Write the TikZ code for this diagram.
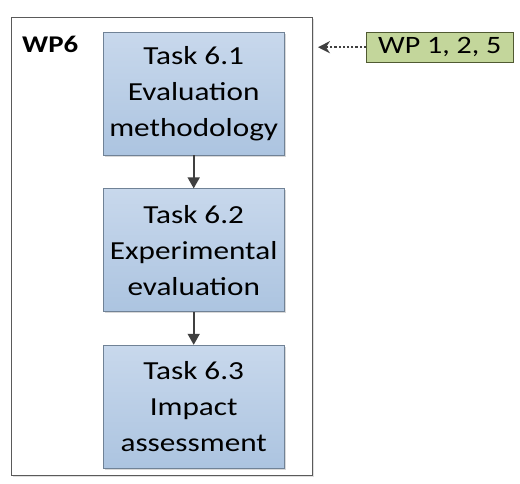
\documentclass[tikz,border=0pt]{standalone}
\usepackage{fontspec}
\setmainfont{Carlito}[FakeStretch=1.2]
\usetikzlibrary{arrows.meta, calc, positioning, shadows}
\definecolor{tasktop}{RGB}{200,216,236}
\definecolor{taskbot}{RGB}{172,196,224}
\definecolor{taskline}{RGB}{112,130,150}
\definecolor{wpcol}{RGB}{195,214,155}
\definecolor{wpline}{RGB}{80,90,50}
\definecolor{framecol}{RGB}{90,90,90}
\definecolor{linecol}{RGB}{64,64,64}
\tikzset{
  frame/.style = {draw=framecol, line width=0.9pt, fill=white,
                  minimum width=301pt, minimum height=458pt, inner sep=0pt,
                  drop shadow={shadow xshift=1.5pt, shadow yshift=-1.5pt,
                               opacity=0.25}},
  task/.style  = {draw=taskline, top color=tasktop, bottom color=taskbot,
                  align=center, minimum width=181pt, minimum height=123pt,
                  inner sep=0pt, font=\fontsize{26}{36}\selectfont,
                  drop shadow={shadow xshift=1.5pt, shadow yshift=-1.5pt,
                               opacity=0.3}},
  wpin/.style  = {draw=wpline, fill=wpcol, minimum width=147pt,
                  minimum height=30pt, inner sep=0pt,
                  font=\fontsize{25}{28}\selectfont},
  wplabel/.style = {font=\fontsize{24}{26}\selectfont\bfseries, inner sep=0pt},
  flow/.style  = {-{Triangle[length=11pt, width=12pt]}, draw=linecol,
                  line width=1.6pt},
  dep/.style   = {-{Stealth[length=12pt, width=12pt]}, draw=linecol,
                  line width=1.8pt, dash pattern=on 2.2pt off 2pt},
}

\begin{document}
\begin{tikzpicture}[x=1pt, y=1pt, node distance=33pt]
  \useasboundingbox (0,0) rectangle (520,-484);

  %% ---------------- work package frame ----------------
  \node[frame, anchor=north west] at (11,-17) (wp6) {};
  \node[wplabel, anchor=north west] at ($(wp6.north west)+(11pt,-19pt)$)
       (wp6lbl) {WP6};

  %% ---------------- tasks ----------------
  \node[task, anchor=north west] at (103,-32) (t61)
       {Task 6.1\\Evaluation\\methodology};
  \node[task, below=of t61] (t62) {Task 6.2\\Experimental\\evaluation};
  \node[task, below=of t62] (t63) {Task 6.3\\Impact\\assessment};

  \draw[flow] (t61) -- (t62);
  \draw[flow] (t62) -- (t63);

  %% ---------------- input from other work packages ----------------
  \node[wpin, anchor=north west] at (366,-32) (wpin) {WP 1, 2, 5};
  \draw[dep, shorten >=5pt] (wpin.west) -- (wpin.west -| wp6.east);

\end{tikzpicture}
\end{document}
